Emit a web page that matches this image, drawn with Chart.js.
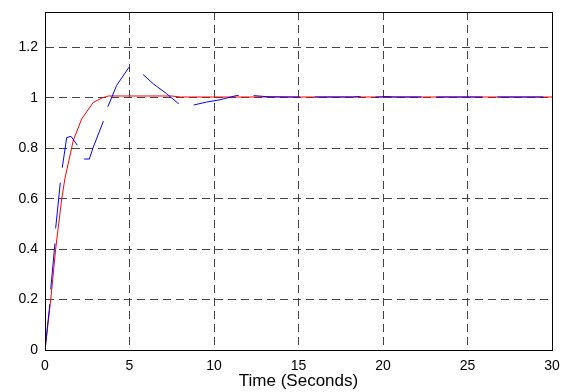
<!DOCTYPE html>
<html>
<head>
<meta charset="utf-8">
<script src="https://cdn.jsdelivr.net/npm/chart.js@4/dist/chart.umd.min.js"></script>
<style>
  html, body { margin: 0; padding: 0; background: #fff; }
  canvas { display: block; }
</style>
</head>
<body>
<canvas id="plot" width="571" height="392"></canvas>
<script>
// blue response (dashed)
const blueT = [0, 0.254, 0.337, 0.592, 0.633, 0.905, 1.024, 1.284, 1.538, 1.911, 2.325, 2.621, 2.86, 3.45, 3.71, 4.24, 4.97,
  5.76, 6.41, 7.20, 7.85, 8.72, 9.56, 10.36, 11.34, 12.23, 13.2, 14.5, 18.2, 18.6, 19.0, 19.8, 20.2, 20.6, 30];
const blueY = [0, 0.161, 0.240, 0.425, 0.484, 0.663, 0.724, 0.842, 0.847, 0.812, 0.757, 0.757, 0.805, 0.906, 0.963, 1.049, 1.121,
  1.095, 1.055, 1.016, 0.979, 0.970, 0.983, 0.992, 1.009, 1.009, 1.004, 1.003, 1.003, 1.005, 1.003, 1.003, 1.005, 1.003, 1.003];

// red response (solid)
const redT = [0, 0.34, 0.63, 0.99, 1.18, 1.67, 2.17, 2.86, 3.4, 3.75, 7.5, 8.0, 30];
const redY = [0, 0.2, 0.4, 0.6, 0.68, 0.83, 0.916, 0.982, 1.0, 1.007, 1.007, 1.003, 1.003];

const xTicks = [0, 5, 10, 15, 20, 25, 30];
const yTicks = [0, 0.2, 0.4, 0.6, 0.8, 1, 1.2];
const xTitle = "Time (Seconds)";

const toPts = (t, y) => t.map((v, i) => ({ x: v, y: y[i] }));

// box around the axes, MATLAB style
const boxPlugin = {
  id: "box",
  afterDatasetsDraw(chart) {
    const a = chart.chartArea;
    const ctx = chart.ctx;
    ctx.save();
    ctx.strokeStyle = "#000";
    ctx.lineWidth = 1;
    ctx.strokeRect(a.left + 0.5, a.top + 0.5, a.right - a.left, a.bottom - a.top);
    ctx.restore();
  }
};

const font = { family: "'Liberation Sans', Arial, sans-serif", size: 14 };

new Chart(document.getElementById("plot"), {
  type: "line",
  data: {
    datasets: [
      {
        data: toPts(blueT, blueY),
        borderColor: "#0000ff",
        borderWidth: 1,
        borderDash: [46, 15],
        pointRadius: 0,
        tension: 0,
        order: 1
      },
      {
        data: toPts(redT, redY),
        borderColor: "#ff0000",
        borderWidth: 1,
        pointRadius: 0,
        tension: 0,
        order: 2
      }
    ]
  },
  options: {
    responsive: false,
    animation: false,
    layout: { padding: { top: 12, right: 19, left: 0, bottom: 0 } },
    plugins: { legend: { display: false }, tooltip: { enabled: false } },
    scales: {
      x: {
        type: "linear",
        min: 0,
        max: 30,
        afterBuildTicks: s => { s.ticks = xTicks.map(v => ({ value: v })); },
        afterFit: s => { s.height = 42; s.paddingLeft = 0; s.paddingRight = 0; },
        ticks: { color: "#000", font: font, padding: 8, maxRotation: 0 },
        grid: { color: "#444", drawTicks: false },
        border: { display: true, color: "#000", dash: [8, 5] },
        title: { display: true, text: xTitle, color: "#000", font: { family: font.family, size: 17 }, padding: { top: 0, bottom: 0 } }
      },
      y: {
        min: 0,
        max: 1.34,
        afterBuildTicks: s => { s.ticks = yTicks.map(v => ({ value: v })); },
        afterFit: s => { s.width = 45; s.paddingTop = 0; s.paddingBottom = 0; },
        ticks: { color: "#000", font: font, padding: 7, callback: v => String(Math.round(v * 10) / 10) },
        grid: { color: "#444", drawTicks: false },
        border: { display: true, color: "#000", dash: [8, 5] }
      }
    }
  },
  plugins: [boxPlugin]
});
</script>
</body>
</html>
